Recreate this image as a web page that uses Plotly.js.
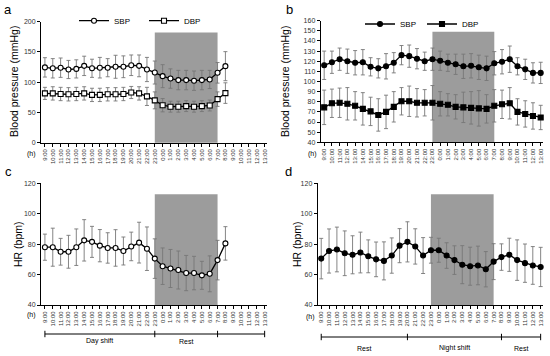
<!DOCTYPE html>
<html><head><meta charset="utf-8">
<script src="https://cdn.plot.ly/plotly-3.0.1.min.js"></script>
<style>html,body{margin:0;padding:0;background:#fff}#chart{width:550px;height:356px}</style>
</head><body><div id="chart"></div>
<script>
const hours = ['9:00','10:00','11:00','12:00','13:00','14:00','15:00','16:00','17:00','18:00','19:00','20:00','21:00','22:00','23:00',
  '0:00','1:00','2:00','3:00','4:00','5:00','6:00','7:00','8:00','9:00','10:00','11:00','12:00','13:00'];

// Panel a (day shift workers) — 9:00 to 8:00
const sbpA = [124.5,123,124,121,122,127,123,124,124,125.5,125.5,128,127,121,116,110,106,103.5,103.5,102.5,103.5,104.5,115.5,126.5];
const sbpAsd = [16,16,16,15,15,16,15,17,15,19,18,17,18,20,19,19,16,16,16,16,16,15,17,24];
const dbpA = [81.5,81.5,80.5,80,80.5,81.5,79,79,80,80,80.5,83,81.5,76.5,70,62,59.5,59.5,60.5,59.5,60.5,61.5,72,82];
const dbpAsd = [10,11,11,11,11,11,11,11,11,11,11,10,11,15,14,11,9,9,9,9,9,9,12,17];

// Panel b (night shift workers) — 9:00 to 13:00 next day
const sbpB = [116,119,122,120,118.5,119,114.5,113,115,118.5,126,125,122.5,120,122,120.5,118.5,117,115,115.5,114,113,118,119.5,122,115,112,108.5,108.5];
const sbpBsd = [14,11,11,12,12,12.5,9,9.5,12.5,10,9.5,11,10,9,11,9.5,8.5,10,12,12,12,12,11.5,12,13,8.5,10,10,10.5];
const dbpB = [74.5,78.5,79,78,76,73,70.5,67,70,75,80.5,80.5,79,79,79,78,77,75,74.5,74,73.5,73,76,77.5,78.5,70,68,66,64.5];
const dbpBsd = [17,14,14.5,16,14,16,14,16,16.5,15,13.5,15,14,13,17,12,11,12,15,16,17.5,14,16,14,15.5,13,13,13,12];

// Panel c (HR, day shift) — 9:00 to 8:00
const hrC = [78,78,75,75,78,82.5,81.5,79,77.5,77.5,75.5,78.5,81,77,70.5,65.5,64,63,61,61,59.5,60.5,69.5,80.5];
const hrCsd = [8.6,12.5,8.8,10.8,12,13.6,10.2,10.6,10,12,9.2,9.4,13.4,14.3,13,12,12.5,12.5,11.6,11,9.2,11.8,13,11];

// Panel d (HR, night shift) — 9:00 to 13:00 next day
const hrD = [70.5,75.5,76.5,74,73,74.5,72,70,69,72.5,79,81.5,78.5,72.5,76,76,72.5,69.5,66.5,65.5,66,63.5,68.5,71.5,73,69.5,67.5,66,65];
const hrDsd = [13.3,14.5,14.7,14.7,12.5,13.4,10.8,11.4,12.5,11.6,11.2,13.2,11.6,11.8,8.5,7.9,8.4,9.4,12.5,12.5,12.7,11.6,11.8,8.7,10.9,13.3,12.6,12.4,12.9];

const seriesNames = ['SBP','DBP'];
const bracketsC = {pos:[0,14,22,28], labels:['Day shift','Rest','']};
const bracketsD = {pos:[0,11,23,28], labels:['Rest','Night shift','Rest']};
const shadeRange = [14,22];

const idx = n => Array.from({length:n},(_,i)=>i);
const errStyle = sd => ({type:'data',array:sd,visible:true,color:'#777777',thickness:0.9,width:2});

function tr(y, sd, xa, ya, name, sym, filled, legend, showlegend){
  return {x:idx(y.length), y:y, xaxis:xa, yaxis:ya, name:name, type:'scatter', mode:'lines+markers',
    line:{color:'#000',width:1.3},
    marker:{symbol:sym, size:5, color: filled ? '#000' : '#fff', line:{color:'#000',width:1.1}},
    error_y:errStyle(sd), legend:legend, showlegend:showlegend, cliponaxis:false};
}

const data = [
  tr(sbpA,sbpAsd,'x','y',seriesNames[0],'circle',false,'legend',true),
  tr(dbpA,dbpAsd,'x','y',seriesNames[1],'square',false,'legend3',true),
  tr(sbpB,sbpBsd,'x2','y2',seriesNames[0],'circle',true,'legend2',true),
  tr(dbpB,dbpBsd,'x2','y2',seriesNames[1],'square',true,'legend4',true),
  tr(hrC,hrCsd,'x3','y3','HR','circle',false,'legend',false),
  tr(hrD,hrDsd,'x4','y4','HR','circle',true,'legend',false)
];

const font = {family:'Liberation Sans, Arial, sans-serif', color:'#000'};
function xax(domain, anchor, r){
  return {domain:domain, anchor:anchor, range:r, tickmode:'array', tickvals:idx(hours.length), ticktext:hours,
    tickangle:-90, tickfont:{size:6, family:font.family, color:'#333'}, ticks:'outside', ticklen:3, tickwidth:1,
    tickcolor:'#000', showline:true, linecolor:'#000', linewidth:1, showgrid:false, zeroline:false, fixedrange:true};
}
function yax(domain, anchor, r, dt){
  return {domain:domain, anchor:anchor, range:r, dtick:dt, tick0:r[0], ticks:'outside', ticklen:3, tickwidth:1,
    tickcolor:'#000', tickfont:{size:7, family:font.family, color:'#333'}, showline:true, linecolor:'#000', linewidth:1,
    showgrid:false, zeroline:false, fixedrange:true};
}

const W=550, H=356;
const px = v => v/W, py = v => (H-v)/H;

const shapes = [];
[['x','y'],['x2','y2'],['x3','y3'],['x4','y4']].forEach(([xa,ya])=>{
  shapes.push({type:'rect', xref:xa, yref:ya+' domain', x0:shadeRange[0], x1:shadeRange[1], y0:0, y1:0.91,
    fillcolor:'#9c9c9c', line:{width:0}, layer:'below'});
});
function brackets(b, xa, yPaper){
  shapes.push({type:'line', xref:xa, yref:'paper', x0:b.pos[0], x1:b.pos[b.pos.length-1], y0:yPaper, y1:yPaper, line:{color:'#000',width:1}});
  b.pos.forEach(p=>shapes.push({type:'line', xref:xa, yref:'paper', x0:p, x1:p, y0:yPaper-0.009, y1:yPaper+0.009, line:{color:'#000',width:1}}));
}
brackets(bracketsC,'x3',py(334));
brackets(bracketsD,'x4',py(337));

const annotations = [];
function ann(text,x,y,size,extra){ annotations.push(Object.assign({text:text, xref:'paper', yref:'paper', x:x, y:y, showarrow:false,
  font:{size:size, family:font.family, color:'#000'}, xanchor:'center', yanchor:'middle'}, extra||{})); }
ann('a',px(8),py(10),13); ann('b',px(289),py(10),13); ann('c',px(8),py(172),13); ann('d',px(288),py(172),13);
ann('Blood pressure (mmHg)',px(14),py(82),10.5,{textangle:-90});
ann('Blood pressure (mmHg)',px(285),py(82),10.5,{textangle:-90});
ann('HR (bpm)',px(18),py(244),10.5,{textangle:-90});
ann('HR (bpm)',px(297),py(244),10.5,{textangle:-90});
ann('(h)',px(31),py(154),7); ann('(h)',px(312),py(154),7);
ann('(h)',px(31),py(315),7); ann('(h)',px(310),py(317),7);
function bracketLabels(b, xa, yPaper){
  b.labels.forEach((t,i)=>{ if(!t) return; annotations.push({text:t, xref:xa, yref:'paper', x:(b.pos[i]+b.pos[i+1])/2, y:yPaper,
    showarrow:false, font:{size:7, family:font.family, color:'#000'}, xanchor:'center', yanchor:'middle'}); });
}
bracketLabels(bracketsC,'x3',py(341));
bracketLabels(bracketsD,'x4',py(348));

function leg(xPix, yPix){
  return {orientation:'h', x:px(xPix), y:py(yPix), xanchor:'left', yanchor:'middle', bgcolor:'rgba(0,0,0,0)',
    font:{size:8, family:font.family}, itemwidth:30, tracegroupgap:0};
}

const layout = {
  width:W, height:H, margin:{l:0,r:0,t:0,b:0}, paper_bgcolor:'#fff', plot_bgcolor:'rgba(0,0,0,0)',
  font:font, showlegend:true,
  xaxis: xax([px(41),px(267)],'y',[-0.5,28.3]),
  yaxis: yax([py(142.7),py(21.7)],'x',[0,200],50),
  xaxis2: xax([px(320.7),px(543)],'y2',[-0.45,28.3]),
  yaxis2: yax([py(142.3),py(20.7)],'x2',[40,160],10),
  xaxis3: xax([px(41),px(267)],'y3',[-0.5,28.3]),
  yaxis3: yax([py(305),py(183.3)],'x3',[40,120],20),
  xaxis4: xax([px(317.7),px(543)],'y4',[-0.45,28.3]),
  yaxis4: yax([py(305),py(183.3)],'x4',[40,120],20),
  legend: leg(74,20.7),
  legend3: leg(144,20.7),
  legend2: leg(360,24),
  legend4: leg(422,24),
  shapes:shapes, annotations:annotations
};

Plotly.newPlot('chart', data, layout, {staticPlot:true, displayModeBar:false});
</script>
</body></html>
